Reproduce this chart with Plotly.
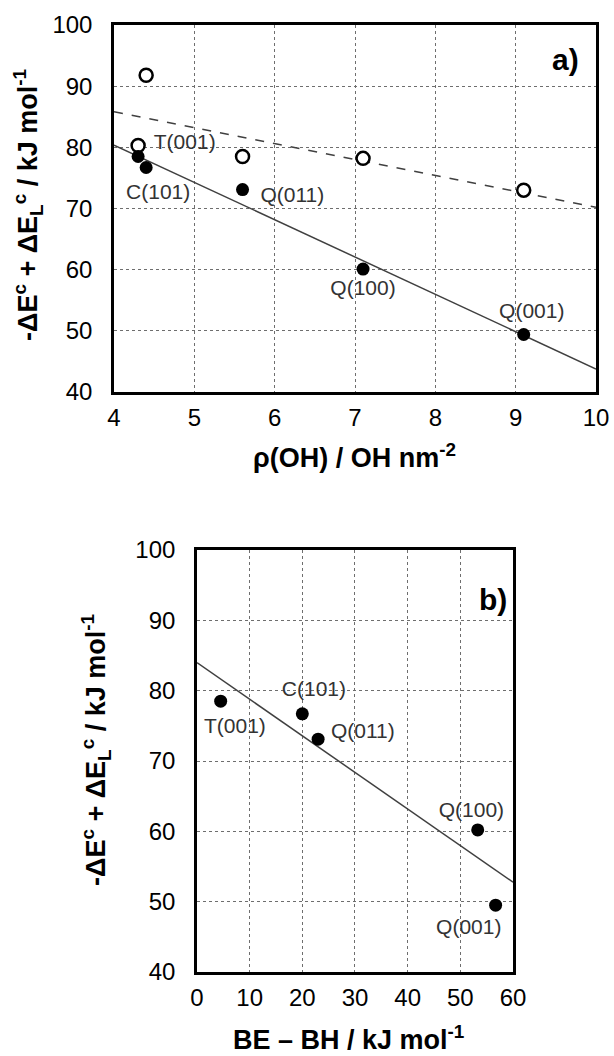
import numpy as np
import plotly.graph_objects as go

# panel a) surface OH density vs interaction energy
rho_oh = [4.3, 4.4, 5.6, 7.1, 9.1]
e_filled_a = [78.5, 76.7, 73.1, 60.1, 49.4]
rho_open = [4.4, 4.3, 5.6, 7.1, 9.1]
e_open_a = [91.8, 80.3, 78.5, 78.2, 73.0]

# panel b) BE - BH vs interaction energy
be_bh = [4.5, 20.0, 23.0, 53.3, 56.7]
e_b = [78.5, 76.7, 73.1, 60.2, 49.5]

surfaces = ["T(001)", "C(101)", "Q(011)", "Q(100)", "Q(001)"]

# label positions (data coords)
lab_a_x = [4.88, 4.55, 6.22, 7.1, 9.2]
lab_a_y = [80.6, 72.4, 71.9, 56.7, 52.9]
lab_b_x = [7.2, 22.2, 31.5, 52.1, 51.6]
lab_b_y = [74.7, 80.0, 74.0, 62.8, 46.1]

FONT = "Liberation Sans, Arial, sans-serif"

fig = go.Figure()

# fitted lines
xa = np.array([4.0, 10.0])
k1 = np.polyfit(rho_oh, e_filled_a, 1)
k2 = np.polyfit(rho_open, e_open_a, 1)
fig.add_trace(go.Scatter(x=xa, y=np.polyval(k1, xa), mode="lines",
                         line=dict(color="#404040", width=1.5),
                         xaxis="x", yaxis="y", showlegend=False))
fig.add_trace(go.Scatter(x=xa, y=np.polyval(k2, xa), mode="lines",
                         line=dict(color="#404040", width=1.5, dash="dash"),
                         xaxis="x", yaxis="y", showlegend=False))

fig.add_trace(go.Scatter(x=rho_open, y=e_open_a, mode="markers",
                         marker=dict(size=13, color="white",
                                     line=dict(color="black", width=2.5)),
                         xaxis="x", yaxis="y", showlegend=False))
fig.add_trace(go.Scatter(x=rho_oh, y=e_filled_a, mode="markers",
                         marker=dict(size=13, color="black"),
                         xaxis="x", yaxis="y", showlegend=False))

xb = np.array([0.0, 60.0])
k3 = np.polyfit(be_bh, e_b, 1)
fig.add_trace(go.Scatter(x=xb, y=np.polyval(k3, xb), mode="lines",
                         line=dict(color="#404040", width=1.5),
                         xaxis="x2", yaxis="y2", showlegend=False))
fig.add_trace(go.Scatter(x=be_bh, y=e_b, mode="markers",
                         marker=dict(size=13, color="black"),
                         xaxis="x2", yaxis="y2", showlegend=False))

# point labels
fig.add_trace(go.Scatter(x=lab_a_x, y=lab_a_y, mode="text", text=surfaces,
                         textfont=dict(size=21, color="#333333", family=FONT),
                         xaxis="x", yaxis="y", showlegend=False))
fig.add_trace(go.Scatter(x=lab_b_x, y=lab_b_y, mode="text", text=surfaces,
                         textfont=dict(size=21, color="#333333", family=FONT),
                         xaxis="x2", yaxis="y2", showlegend=False))

axis_style = dict(
    showgrid=True, gridcolor="#6e6e6e", griddash="dot", gridwidth=1,
    showline=True, linecolor="black", linewidth=2.5, mirror=True,
    ticks="", ticklen=0, zeroline=False, automargin=False,
    tickfont=dict(size=24, color="black", family=FONT),
)

ytitle = "-ΔE<sup>c</sup> + ΔE<sub>L</sub><sup>c</sup> / kJ mol<sup>-1</sup>"


def label(text, x, y, size, angle=0):
    return dict(text="<b>" + text + "</b>", x=x / 614, y=1 - y / 1056, textangle=angle,
                xref="paper", yref="paper", xanchor="center", yanchor="middle",
                showarrow=False, font=dict(size=size, family=FONT, color="black"))


fig.update_layout(
    width=614, height=1056,
    margin=dict(l=0, r=0, t=0, b=0),
    plot_bgcolor="white", paper_bgcolor="white",
    font=dict(family=FONT, color="black"),
    xaxis=dict(axis_style, domain=[0.1857, 0.9707], range=[4, 10], dtick=1,
               anchor="y", ticklabelstandoff=2),
    yaxis=dict(axis_style, domain=[0.6288, 0.9763], range=[40, 100], dtick=10,
               anchor="x", ticklabelstandoff=14),
    xaxis2=dict(axis_style, domain=[0.3208, 0.8355], range=[0, 60], dtick=10,
                anchor="y2", ticklabelstandoff=2),
    yaxis2=dict(axis_style, domain=[0.0795, 0.4792], range=[40, 100], dtick=10,
                anchor="x2", ticklabelstandoff=14),
    annotations=[
        dict(text="<b>a)</b>", x=9.62, y=94.3, xref="x", yref="y", showarrow=False,
             font=dict(size=30, family=FONT, color="black")),
        dict(text="<b>b)</b>", x=56.2, y=93.0, xref="x2", yref="y2", showarrow=False,
             font=dict(size=30, family=FONT, color="black")),
        label("ρ(OH) / OH nm<sup>-2</sup>", 354, 456, 27),
        label("BE – BH / kJ mol<sup>-1</sup>", 348, 1038, 27),
        label(ytitle, 28, 205, 27, -90),
        label(ytitle, 96, 750, 27, -90),
    ],
)

# drop the default page margin so the figure sits at the window origin
fig.write_html("out.html", config={"displayModeBar": False},
               post_script="document.body.style.margin='0';")
